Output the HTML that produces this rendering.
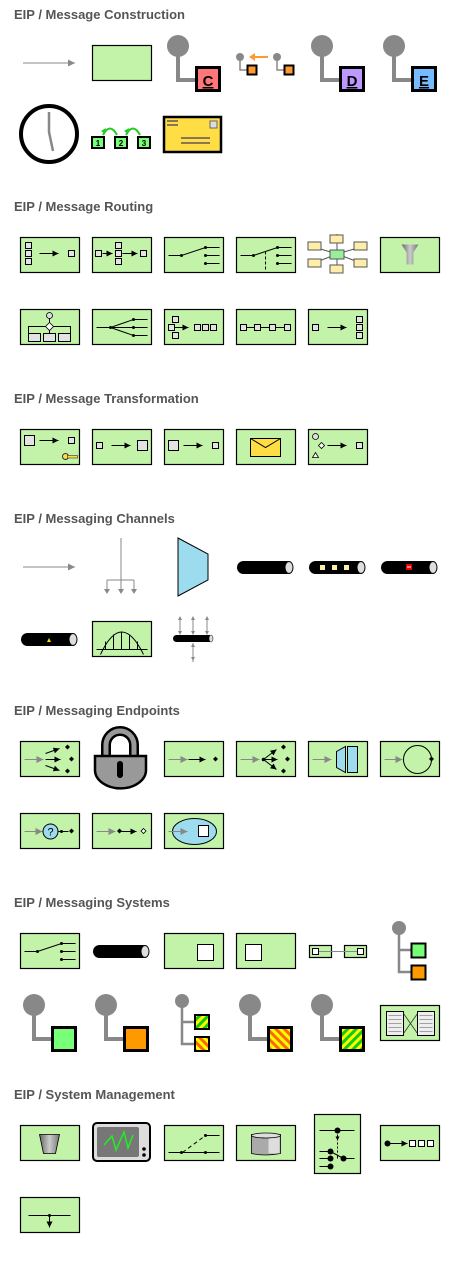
<!DOCTYPE html>
<html><head><meta charset="utf-8"><style>
html,body{margin:0;padding:0;background:#fff;width:474px;height:1272px;overflow:hidden}
svg{display:block}
text.h{font-family:"Liberation Sans",sans-serif;font-weight:bold;font-size:13px;fill:#555}
.b{fill:#c2f3a9;stroke:#000;stroke-width:1.2}
.s{fill:#e3e3e3;stroke:#000;stroke-width:1}
.l{stroke:#000;stroke-width:1;fill:none}
.g{stroke:#888;stroke-width:1;fill:none}
.gr{stroke:#888;stroke-width:4;fill:none}
</style></head><body>
<svg width="474" height="1272" viewBox="0 0 474 1272" xmlns="http://www.w3.org/2000/svg">
<defs>
<marker id="a" viewBox="0 0 6 6" refX="6" refY="3" markerWidth="6" markerHeight="6" orient="auto"><path d="M0,0L6,3L0,6z" fill="#000"/></marker>
<marker id="ag" viewBox="0 0 6 6" refX="6" refY="3" markerWidth="7" markerHeight="7" orient="auto"><path d="M0,0L6,3L0,6z" fill="#888"/></marker>
<linearGradient id="fun" x1="0" x2="1"><stop offset="0" stop-color="#666"/><stop offset=".5" stop-color="#ccc"/><stop offset="1" stop-color="#777"/></linearGradient>
<pattern id="gy" width="6" height="6" patternUnits="userSpaceOnUse" patternTransform="rotate(45)"><rect width="3" height="6" fill="#1c1"/><rect x="3" width="3" height="6" fill="#ff0"/></pattern>
<pattern id="oy" width="6" height="6" patternUnits="userSpaceOnUse" patternTransform="rotate(-45)"><rect width="3" height="6" fill="#f60"/><rect x="3" width="3" height="6" fill="#ff0"/></pattern>
</defs>

<!-- ===== Message Construction ===== -->
<text class="h" x="14" y="19">EIP / Message Construction</text>
<line class="g" x1="23" y1="63" x2="75" y2="63" marker-end="url(#ag)"/>
<rect class="b" x="92.5" y="45.5" width="59" height="35"/>
<circle cx="178" cy="46" r="11" fill="#888"/>
<path class="gr" d="M178,50V80H198"/>
<rect x="196.5" y="67.5" width="23" height="23" fill="#f77" stroke="#000" stroke-width="3"/>
<text x="208" y="86" text-anchor="middle" font-family="Liberation Sans" font-weight="bold" font-size="15" text-decoration="underline">C</text>
<circle cx="240" cy="57" r="4" fill="#888"/><circle cx="277" cy="57" r="4" fill="#888"/>
<path d="M240,57V70H248M277,57V70H285" stroke="#888" stroke-width="1.5" fill="none"/>
<rect x="247.5" y="65.5" width="9" height="9" fill="#f93" stroke="#000" stroke-width="2"/>
<rect x="284.5" y="65.5" width="9" height="9" fill="#f93" stroke="#000" stroke-width="2"/>
<path d="M268,57H254" stroke="#f93" stroke-width="2"/><path d="M249,57l6,-4v8z" fill="#f93"/>
<circle cx="322" cy="46" r="11" fill="#888"/>
<path class="gr" d="M322,50V80H342"/>
<rect x="340.5" y="67.5" width="23" height="23" fill="#b9f" stroke="#000" stroke-width="3"/>
<text x="352" y="86" text-anchor="middle" font-family="Liberation Sans" font-weight="bold" font-size="15" text-decoration="underline">D</text>
<circle cx="394" cy="46" r="11" fill="#888"/>
<path class="gr" d="M394,50V80H414"/>
<rect x="412.5" y="67.5" width="23" height="23" fill="#7bf" stroke="#000" stroke-width="3"/>
<text x="424" y="86" text-anchor="middle" font-family="Liberation Sans" font-weight="bold" font-size="15" text-decoration="underline">E</text>
<circle cx="49" cy="134" r="28" fill="#fff" stroke="#000" stroke-width="4"/>
<path d="M49,112V132L53,151" stroke="#888" stroke-width="2.5" fill="none"/>
<g font-family="Liberation Sans" font-weight="bold" font-size="8" text-anchor="middle">
<rect x="92" y="137" width="12" height="11" fill="#7f7" stroke="#000" stroke-width="2"/><text x="98" y="146">1</text>
<rect x="115" y="137" width="12" height="11" fill="#7f7" stroke="#000" stroke-width="2"/><text x="121" y="146">2</text>
<rect x="138" y="137" width="12" height="11" fill="#7f7" stroke="#000" stroke-width="2"/><text x="144" y="146">3</text>
</g>
<path d="M103,135Q110,122 117,135M126,135Q133,122 140,135" stroke="#2c2" stroke-width="2" fill="none"/>
<path d="M101,131l5,-3l-1,6zM124,131l5,-3l-1,6z" fill="#2c2"/>
<rect x="164" y="117" width="57" height="35" fill="#fd4" stroke="#000" stroke-width="2.5"/>
<rect x="167" y="120" width="11" height="2" fill="#875"/><rect x="167" y="124" width="11" height="2" fill="#875"/>
<rect x="210" y="121" width="7" height="7" fill="#ddd" stroke="#666"/>
<rect x="181" y="137" width="29" height="2" fill="#875"/><rect x="181" y="142" width="29" height="2" fill="#875"/>

<!-- ===== Message Routing ===== -->
<text class="h" x="14" y="211">EIP / Message Routing</text>
<g transform="translate(20.5,237.5)"><rect class="b" width="59" height="35"/>
<rect class="s" x="5" y="5" width="6" height="6"/><rect class="s" x="5" y="13" width="6" height="6"/><rect class="s" x="5" y="21" width="6" height="6"/>
<line class="l" x1="19" y1="16" x2="38" y2="16" marker-end="url(#a)"/><rect class="s" x="48" y="13" width="6" height="6"/></g>
<g transform="translate(92.5,237.5)"><rect class="b" width="59" height="35"/>
<rect class="s" x="3" y="13" width="6" height="6"/><line class="l" x1="10" y1="16" x2="20" y2="16" marker-end="url(#a)"/>
<rect class="s" x="23" y="5" width="6" height="6"/><rect class="s" x="23" y="13" width="6" height="6"/><rect class="s" x="23" y="21" width="6" height="6"/>
<line class="l" x1="30" y1="16" x2="45" y2="16" marker-end="url(#a)"/><rect class="s" x="48" y="13" width="6" height="6"/></g>
<g transform="translate(164.5,237.5)"><rect class="b" width="59" height="35"/>
<path class="l" d="M4,18H17L41,10H55M41,18H55M41,26H55"/><circle cx="17" cy="18" r="1.5"/><circle cx="41" cy="10" r="1.5"/><circle cx="41" cy="18" r="1.5"/><circle cx="41" cy="26" r="1.5"/></g>
<g transform="translate(236.5,237.5)"><rect class="b" width="59" height="35"/>
<path class="l" d="M4,18H17L41,10H55M41,18H55M41,26H55"/><path class="l" d="M29,14V34" stroke-dasharray="3,2"/><circle cx="17" cy="18" r="1.5"/><circle cx="41" cy="10" r="1.5"/><circle cx="41" cy="18" r="1.5"/><circle cx="41" cy="26" r="1.5"/></g>
<g stroke="#555" stroke-width="1">
<path d="M337,234V270M314,247L337,254L361,247M314,263L337,254L361,263" fill="none"/>
<rect x="330" y="235" width="13" height="8" fill="#ffeeaa"/><rect x="330" y="265" width="13" height="8" fill="#ffeeaa"/>
<rect x="308" y="242" width="13" height="8" fill="#ffeeaa"/><rect x="308" y="259" width="13" height="8" fill="#ffeeaa"/>
<rect x="354" y="242" width="13" height="8" fill="#ffeeaa"/><rect x="354" y="259" width="13" height="8" fill="#ffeeaa"/>
<rect x="330" y="250" width="14" height="9" fill="#9e9"/></g>
<g transform="translate(380.5,237.5)"><rect class="b" width="59" height="35"/>
<path d="M21,7H38L33,15V27H26V15Z" fill="url(#fun)"/></g>
<g transform="translate(20.5,309.5)"><rect class="b" width="59" height="35"/>
<circle cx="29" cy="6" r="3" fill="#ddd" stroke="#000" stroke-width=".8"/><path class="l" d="M29,9V13M8,24V17H50V24M29,21V24"/>
<path d="M29,13L33,17L29,21L25,17Z" fill="#fff" stroke="#000" stroke-width=".8"/>
<rect class="s" x="8" y="24" width="12" height="8"/><rect class="s" x="23" y="24" width="12" height="8"/><rect class="s" x="38" y="24" width="12" height="8"/></g>
<g transform="translate(92.5,309.5)"><rect class="b" width="59" height="35"/>
<path class="l" d="M4,18H18L41,10H55M18,18H55M18,18L41,26H55"/><circle cx="18" cy="18" r="1.5"/><circle cx="41" cy="10" r="1.5"/><circle cx="41" cy="18" r="1.5"/><circle cx="41" cy="26" r="1.5"/></g>
<g transform="translate(164.5,309.5)"><rect class="b" width="59" height="35"/>
<rect class="s" x="8" y="7" width="6" height="6"/><rect class="s" x="4" y="15" width="6" height="6"/><rect class="s" x="8" y="23" width="6" height="6"/>
<line class="l" x1="10" y1="18" x2="24" y2="18" marker-end="url(#a)"/>
<rect class="s" x="30" y="15" width="6" height="6"/><rect class="s" x="38" y="15" width="6" height="6"/><rect class="s" x="46" y="15" width="6" height="6"/></g>
<g transform="translate(236.5,309.5)"><rect class="b" width="59" height="35"/>
<line class="l" x1="7" y1="18" x2="52" y2="18"/>
<rect class="s" x="4" y="15" width="6" height="6"/><rect class="s" x="18" y="15" width="6" height="6"/><rect class="s" x="33" y="15" width="6" height="6"/><rect class="s" x="48" y="15" width="6" height="6"/></g>
<g transform="translate(308.5,309.5)"><rect class="b" width="59" height="35"/>
<rect class="s" x="4" y="15" width="6" height="6"/><line class="l" x1="19" y1="18" x2="38" y2="18" marker-end="url(#a)"/>
<rect class="s" x="48" y="7" width="6" height="6"/><rect class="s" x="48" y="15" width="6" height="6"/><rect class="s" x="48" y="23" width="6" height="6"/></g>

<!-- ===== Message Transformation ===== -->
<text class="h" x="14" y="403">EIP / Message Transformation</text>
<g transform="translate(20.5,429.5)"><rect class="b" width="59" height="35"/>
<rect class="s" x="4" y="6" width="10" height="10"/><line class="l" x1="19" y1="11" x2="38" y2="11" marker-end="url(#a)"/><rect class="s" x="48" y="8" width="6" height="6"/>
<circle cx="45" cy="27" r="3" fill="#fd4" stroke="#333"/><rect x="47" y="26" width="10" height="2.5" fill="#fd4" stroke="#333" stroke-width=".6"/></g>
<g transform="translate(92.5,429.5)"><rect class="b" width="59" height="35"/>
<rect class="s" x="4" y="13" width="6" height="6"/><line class="l" x1="19" y1="16" x2="38" y2="16" marker-end="url(#a)"/><rect class="s" x="45" y="11" width="10" height="10"/></g>
<g transform="translate(164.5,429.5)"><rect class="b" width="59" height="35"/>
<rect class="s" x="4" y="11" width="10" height="10"/><line class="l" x1="19" y1="16" x2="38" y2="16" marker-end="url(#a)"/><rect class="s" x="48" y="13" width="6" height="6"/></g>
<g transform="translate(236.5,429.5)"><rect class="b" width="59" height="35"/>
<rect x="14" y="9" width="30" height="18" fill="#fd4" stroke="#000"/><path class="l" d="M14,9L29,18L44,9"/></g>
<g transform="translate(308.5,429.5)"><rect class="b" width="59" height="35"/>
<circle cx="7" cy="7" r="3" fill="#ddd" stroke="#000" stroke-width=".8"/><path d="M13,13l3,3l-3,3l-3,-3z" fill="#fff" stroke="#000" stroke-width=".8"/><path d="M4,28L7,23L10,28Z" fill="#fff" stroke="#000" stroke-width=".8"/>
<line class="l" x1="19" y1="16" x2="38" y2="16" marker-end="url(#a)"/><rect class="s" x="48" y="13" width="6" height="6"/></g>

<!-- ===== Messaging Channels ===== -->
<text class="h" x="14" y="523">EIP / Messaging Channels</text>
<line class="g" x1="23" y1="567" x2="75" y2="567" marker-end="url(#ag)"/>
<path class="g" d="M121,538V592M107,580H134M107,580V592M134,580V592"/>
<path d="M104,589h6l-3,5zM118,589h6l-3,5zM131,589h6l-3,5z" fill="#888"/>
<path d="M178,538L208,554V580L178,596Z" fill="#9ddcee" stroke="#000"/>
<rect x="237" y="561" width="56" height="13" rx="6.5" fill="#000"/><ellipse cx="289" cy="567.5" rx="4" ry="6" fill="#ddd" stroke="#000"/>
<rect x="309" y="561" width="56" height="13" rx="6.5" fill="#000"/><ellipse cx="361" cy="567.5" rx="4" ry="6" fill="#ddd" stroke="#000"/>
<rect x="320" y="565" width="5" height="5" fill="#ffeeaa"/><rect x="332" y="565" width="5" height="5" fill="#ffeeaa"/><rect x="344" y="565" width="5" height="5" fill="#ffeeaa"/>
<rect x="381" y="561" width="56" height="13" rx="6.5" fill="#000"/><ellipse cx="433" cy="567.5" rx="4" ry="6" fill="#ddd" stroke="#000"/>
<rect x="406" y="564" width="6" height="6" fill="#e00"/><rect x="407" y="566.5" width="4" height="1" fill="#fff"/>
<rect x="21" y="633" width="56" height="13" rx="6.5" fill="#000"/><ellipse cx="73" cy="639.5" rx="4" ry="6" fill="#ddd" stroke="#000"/>
<path d="M47,642L49,638L51,642Z" fill="#fd0"/>
<g transform="translate(92.5,621.5)"><rect class="b" width="59" height="35"/>
<path class="l" d="M4,28H55M8,33Q29,-12 51,33M13,20V28M21,13V28M29,11V28M37,13V28M45,20V28"/></g>
<rect x="173" y="635" width="40" height="7" rx="3.5" fill="#000"/><ellipse cx="211" cy="638.5" rx="2" ry="3.5" fill="#ddd" stroke="#000" stroke-width=".5"/>
<path class="g" d="M180,617V634M193,617V634M207,617V634M193,643V662"/>
<path d="M178,620h4l-2,-4zM191,620h4l-2,-4zM205,620h4l-2,-4zM178,631h4l-2,4zM191,631h4l-2,4zM205,631h4l-2,4zM191,647h4l-2,-4zM191,657h4l-2,4z" fill="#888"/>

<!-- ===== Messaging Endpoints ===== -->
<text class="h" x="14" y="715">EIP / Messaging Endpoints</text>
<g transform="translate(20.5,741.5)"><rect class="b" width="59" height="35"/>
<line class="g" x1="4" y1="18" x2="23" y2="18" marker-end="url(#ag)"/>
<line class="l" x1="25" y1="12" x2="39" y2="7" marker-end="url(#a)"/><line class="l" x1="25" y1="18" x2="40" y2="18" marker-end="url(#a)"/><line class="l" x1="25" y1="24" x2="39" y2="29" marker-end="url(#a)"/>
<path d="M47,3l2.5,2.5l-2.5,2.5l-2.5,-2.5zM51,15l2.5,2.5l-2.5,2.5l-2.5,-2.5zM47,27l2.5,2.5l-2.5,2.5l-2.5,-2.5z"/></g>
<path d="M106,758V745A14,14 0 0 1 134,745V758" stroke="#000" stroke-width="10" fill="none"/>
<path d="M106,758V745A14,14 0 0 1 134,745V758" stroke="#999" stroke-width="5" fill="none"/>
<path d="M95,756H146V770A25,18 0 0 1 95,770Z" fill="#999" stroke="#000" stroke-width="2.5"/>
<rect x="117" y="761" width="6" height="17" rx="3" fill="#000"/>
<g transform="translate(164.5,741.5)"><rect class="b" width="59" height="35"/>
<line class="g" x1="4" y1="18" x2="23" y2="18" marker-end="url(#ag)"/><line class="l" x1="24" y1="18" x2="41" y2="18" marker-end="url(#a)"/>
<path d="M51,15l2.5,2.5l-2.5,2.5l-2.5,-2.5z"/></g>
<g transform="translate(236.5,741.5)"><rect class="b" width="59" height="35"/>
<line class="g" x1="4" y1="18" x2="23" y2="18" marker-end="url(#ag)"/><circle cx="27" cy="18" r="1.8"/>
<line class="l" x1="27" y1="18" x2="40" y2="8" marker-end="url(#a)"/><line class="l" x1="27" y1="18" x2="41" y2="18" marker-end="url(#a)"/><line class="l" x1="27" y1="18" x2="40" y2="28" marker-end="url(#a)"/>
<path d="M47,3l2.5,2.5l-2.5,2.5l-2.5,-2.5zM51,15l2.5,2.5l-2.5,2.5l-2.5,-2.5zM47,27l2.5,2.5l-2.5,2.5l-2.5,-2.5z"/></g>
<g transform="translate(308.5,741.5)"><rect class="b" width="59" height="35"/>
<line class="g" x1="4" y1="18" x2="23" y2="18" marker-end="url(#ag)"/>
<path d="M28,10L37,5V31L28,26Z" fill="#9ddcee" stroke="#000"/><rect x="39" y="5" width="10" height="26" fill="#9ddcee" stroke="#000"/></g>
<g transform="translate(380.5,741.5)"><rect class="b" width="59" height="35"/>
<line class="g" x1="4" y1="18" x2="22" y2="18" marker-end="url(#ag)"/>
<circle class="l" cx="37" cy="18" r="14"/><path d="M51,15l2.5,2.5l-2.5,2.5l-2.5,-2.5z"/></g>
<g transform="translate(20.5,813.5)"><rect class="b" width="59" height="35"/>
<line class="g" x1="4" y1="18" x2="22" y2="18" marker-end="url(#ag)"/>
<circle cx="30" cy="18" r="7.5" fill="#9ddcee" stroke="#000"/><text x="30" y="22" text-anchor="middle" font-family="Liberation Sans" font-size="11">?</text>
<line class="l" x1="38" y1="18" x2="48" y2="18"/><circle cx="41" cy="18" r="1.5"/><path d="M51,15l2.5,2.5l-2.5,2.5l-2.5,-2.5z"/></g>
<g transform="translate(92.5,813.5)"><rect class="b" width="59" height="35"/>
<line class="g" x1="4" y1="18" x2="23" y2="18" marker-end="url(#ag)"/><path d="M27,15l2.5,2.5l-2.5,2.5l-2.5,-2.5z"/>
<line class="l" x1="29" y1="18" x2="44" y2="18" marker-end="url(#a)"/><path d="M51,15l2.5,2.5l-2.5,2.5l-2.5,-2.5z" fill="#fff" stroke="#000" stroke-width=".8"/></g>
<g transform="translate(164.5,813.5)"><rect class="b" width="59" height="35"/>
<ellipse cx="30" cy="18" rx="22" ry="13" fill="#9ddcee" stroke="#000"/>
<line class="g" x1="4" y1="18" x2="23" y2="18" marker-end="url(#ag)"/><rect x="34" y="12" width="10" height="11" fill="#fff" stroke="#000"/></g>

<!-- ===== Messaging Systems ===== -->
<text class="h" x="14" y="907">EIP / Messaging Systems</text>
<g transform="translate(20.5,933.5)"><rect class="b" width="59" height="35"/>
<path class="l" d="M4,18H17L41,10H55M41,18H55M41,26H55"/><circle cx="17" cy="18" r="1.5"/><circle cx="41" cy="10" r="1.5"/><circle cx="41" cy="18" r="1.5"/><circle cx="41" cy="26" r="1.5"/></g>
<rect x="93" y="945" width="56" height="13" rx="6.5" fill="#000"/><ellipse cx="145" cy="951.5" rx="4" ry="6" fill="#ddd" stroke="#000"/>
<g transform="translate(164.5,933.5)"><rect class="b" width="59" height="35"/><rect x="33" y="11" width="16" height="16" fill="#fff" stroke="#000"/></g>
<g transform="translate(236.5,933.5)"><rect class="b" width="59" height="35"/><rect x="9" y="11" width="16" height="16" fill="#fff" stroke="#000"/></g>
<rect x="309.5" y="945.5" width="22" height="12" class="b"/><rect x="344.5" y="945.5" width="22" height="12" class="b"/>
<line class="g" x1="316" y1="951.5" x2="361" y2="951.5"/>
<rect x="312.5" y="948.5" width="6" height="6" fill="#fff" stroke="#000"/><rect x="357.5" y="948.5" width="6" height="6" fill="#fff" stroke="#000"/>
<circle cx="399" cy="928" r="7" fill="#888"/><path d="M399,932V972H412M399,950H412" stroke="#888" stroke-width="2.5" fill="none"/>
<rect x="411.5" y="943.5" width="14" height="14" fill="#7f7" stroke="#000" stroke-width="2"/>
<rect x="411.5" y="965.5" width="14" height="14" fill="#f90" stroke="#000" stroke-width="2"/>
<circle cx="34" cy="1005" r="11" fill="#888"/><path class="gr" d="M34,1009V1039H54"/>
<rect x="52.5" y="1027.5" width="23" height="23" fill="#7f7" stroke="#000" stroke-width="3"/>
<circle cx="106" cy="1005" r="11" fill="#888"/><path class="gr" d="M106,1009V1039H126"/>
<rect x="124.5" y="1027.5" width="23" height="23" fill="#f90" stroke="#000" stroke-width="3"/>
<circle cx="182" cy="1001" r="7" fill="#888"/><path d="M182,1005V1044H195M182,1022H195" stroke="#888" stroke-width="2.5" fill="none"/>
<rect x="195" y="1015" width="14" height="14" fill="url(#gy)" stroke="#000" stroke-width="2"/>
<rect x="195" y="1037" width="14" height="14" fill="url(#oy)" stroke="#000" stroke-width="2"/>
<circle cx="250" cy="1005" r="11" fill="#888"/><path class="gr" d="M250,1009V1039H270"/>
<rect x="268.5" y="1027.5" width="23" height="23" fill="url(#oy)" stroke="#000" stroke-width="3"/>
<circle cx="322" cy="1005" r="11" fill="#888"/><path class="gr" d="M322,1009V1039H342"/>
<rect x="340.5" y="1027.5" width="23" height="23" fill="url(#gy)" stroke="#000" stroke-width="3"/>
<g transform="translate(380.5,1005.5)"><rect class="b" width="59" height="35"/>
<rect x="6" y="6" width="17" height="24" fill="#eee" stroke="#000"/><rect x="37" y="6" width="17" height="24" fill="#eee" stroke="#000"/>
<path d="M8,10h13M8,14h13M8,18h13M8,22h13M8,26h13M39,10h13M39,14h13M39,18h13M39,22h13M39,26h13" stroke="#888" stroke-width=".8"/>
<path d="M23,8L37,28M23,28L37,8" stroke="#333" stroke-width=".8"/></g>

<!-- ===== System Management ===== -->
<text class="h" x="14" y="1099">EIP / System Management</text>
<g transform="translate(20.5,1125.5)"><rect class="b" width="59" height="35"/>
<path d="M19,9H39L35,28H23Z" fill="url(#fun)" stroke="#000" stroke-width=".8"/></g>
<rect x="93" y="1123" width="57" height="38" rx="4" fill="#ddd" stroke="#000" stroke-width="2"/>
<rect x="97" y="1127" width="42" height="30" rx="2" fill="#777"/>
<path d="M104,1145L112,1136L116,1150L124,1132L128,1148L133,1135" stroke="#2e2" stroke-width="1.5" fill="none"/>
<circle cx="144" cy="1149" r="1.8"/><circle cx="144" cy="1155" r="1.8"/>
<g transform="translate(164.5,1125.5)"><rect class="b" width="59" height="35"/>
<path class="l" d="M4,27H55M41,10H55"/><path class="l" d="M18,27L41,10" stroke-dasharray="4,3"/><circle cx="17" cy="27" r="1.5"/><circle cx="41" cy="27" r="1.5"/><circle cx="41" cy="10" r="1.5"/></g>
<g transform="translate(236.5,1125.5)"><rect class="b" width="59" height="35"/>
<path d="M15,9H44V28Q29,31 15,28Z" fill="#aaa" stroke="#000" stroke-width=".8"/><rect x="32" y="10" width="11" height="18" fill="#ddd"/><ellipse cx="29.5" cy="10" rx="14.5" ry="2.5" fill="#ddd" stroke="#000" stroke-width=".8"/></g>
<g transform="translate(314.5,1114.5)"><rect class="b" width="46" height="59"/>
<path class="l" d="M5,16H40M23,16V44M5,37H16M5,44H16M5,52H16M16,37L29,44H40"/>
<path d="M23,18V40" stroke="#b5e5a0" stroke-width="1.5" stroke-dasharray="2,2"/>
<circle cx="23" cy="16" r="3"/><circle cx="16" cy="37" r="3"/><circle cx="16" cy="44" r="3"/><circle cx="16" cy="52" r="3"/><circle cx="29" cy="44" r="3"/><path d="M21,22h4l-2,4z"/></g>
<g transform="translate(380.5,1125.5)"><rect class="b" width="59" height="35"/>
<circle cx="7" cy="18" r="3"/><line class="l" x1="7" y1="18" x2="27" y2="18" marker-end="url(#a)"/>
<rect x="29" y="15" width="6" height="6" fill="#fff" stroke="#000"/><rect x="38" y="15" width="6" height="6" fill="#fff" stroke="#000"/><rect x="47" y="15" width="6" height="6" fill="#fff" stroke="#000"/></g>
<g transform="translate(20.5,1197.5)"><rect class="b" width="59" height="35"/>
<line class="l" x1="8" y1="18" x2="50" y2="18"/><circle cx="29" cy="18" r="1.5"/><line class="l" x1="29" y1="18" x2="29" y2="30" marker-end="url(#a)"/></g>
</svg>
</body></html>
